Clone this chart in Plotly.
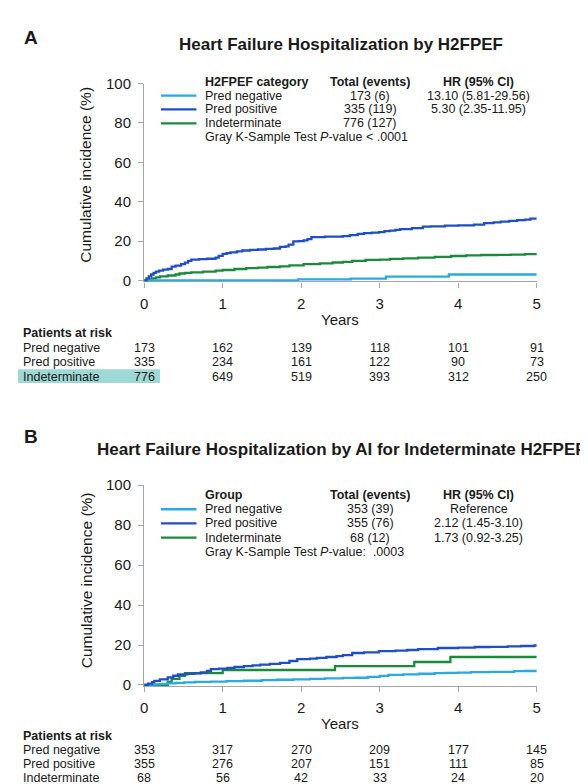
import plotly.graph_objects as go

W, H = 588, 784
FONT = "Liberation Sans, Arial, sans-serif"
TXT = "#1a1a1a"
AXC = "#a6a6a6"

# ---------------- data ----------------
groups = ["Pred negative", "Pred positive", "Indeterminate"]
colors = ["#29abe2", "#1f4fc6", "#1b8a3c"]

# Panel A: cumulative incidence (%) step curves
negA_t = [0, 1.96, 2.63, 3.08, 3.88, 5.0]
negA_y = [0, 0.5, 0.9, 1.9, 3.0, 3.0]
posA_t = [0, 0.03, 0.06, 0.09, 0.12, 0.15, 0.19, 0.24, 0.30, 0.35, 0.40, 0.47, 0.52, 0.56, 0.60, 0.70, 0.80,
          0.91, 0.95, 1.0, 1.05, 1.10, 1.18, 1.25, 1.35, 1.45, 1.55, 1.65, 1.73, 1.80, 1.84, 1.90, 1.97, 2.03,
          2.08, 2.13, 2.30, 2.53, 2.62, 2.72, 2.80, 2.90, 2.99, 3.06, 3.13, 3.20, 3.26, 3.41, 3.55, 3.65, 3.83,
          4.0, 4.2, 4.33, 4.45, 4.54, 4.65, 4.75, 4.85, 4.92, 5.0]
posA_y = [0, 1.0, 2.0, 3.0, 3.8, 4.5, 5.0, 5.5, 5.8, 7.0, 7.5, 8.3, 9.0, 9.9, 10.6, 10.8, 11.0,
          11.6, 12.5, 13.5, 13.9, 14.2, 14.8, 15.2, 15.5, 15.7, 16.0, 16.2, 17.0, 17.3, 18.2, 19.8, 20.0, 20.3,
          21.0, 22.0, 22.2, 22.5, 23.0, 23.6, 24.0, 24.3, 24.5, 25.0, 25.3, 25.7, 26.1, 26.6, 27.3, 27.5, 27.8,
          28.0, 28.3, 29.1, 29.5, 29.9, 30.2, 30.6, 30.9, 31.4, 31.4]
indA_t = [0, 0.05, 0.1, 0.15, 0.2, 0.3, 0.4, 0.45, 0.52, 0.6, 0.75, 0.91, 1.0, 1.15, 1.3, 1.45, 1.57, 1.73,
          1.85, 2.03, 2.24, 2.4, 2.53, 2.65, 2.82, 3.0, 3.13, 3.3, 3.49, 3.7, 3.91, 4.1, 4.29, 4.5, 4.67, 4.85, 5.0]
indA_y = [0, 0.5, 1.0, 1.5, 2.0, 2.5, 3.0, 3.5, 3.8, 4.1, 4.5, 5.0, 5.3, 5.8, 6.2, 6.5, 6.8, 7.1,
          7.6, 8.3, 8.7, 9.1, 9.4, 9.9, 10.4, 10.6, 10.9, 11.2, 11.6, 12.0, 12.4, 12.7, 12.9, 13.0, 13.1, 13.4, 13.6]

# Panel B
negB_t = [0, 0.08, 0.13, 0.2, 0.3, 0.4, 0.51, 0.65, 0.85, 1.05, 1.27, 1.5, 1.69, 1.9, 2.11, 2.3, 2.53, 2.69,
          2.85, 3.0, 3.11, 3.3, 3.5, 3.7, 3.83, 4.0, 4.16, 4.4, 4.71, 4.85, 5.0]
negB_y = [0, 0.2, 0.3, 0.5, 0.8, 1.0, 1.3, 1.5, 1.7, 1.9, 2.1, 2.4, 2.6, 2.8, 3.0, 3.3, 3.5, 3.6,
          4.0, 4.5, 5.0, 5.3, 5.6, 5.9, 6.1, 6.2, 6.4, 6.6, 6.9, 7.0, 7.0]
posB_t = [0, 0.05, 0.1, 0.13, 0.2, 0.3, 0.37, 0.43, 0.55, 0.64, 0.72, 0.8, 0.85, 0.95, 1.06, 1.15, 1.27, 1.38,
          1.48, 1.6, 1.73, 1.85, 1.95, 2.11, 2.2, 2.32, 2.45, 2.53, 2.65, 2.8, 2.99, 3.2, 3.35, 3.49, 3.74, 4.0,
          4.21, 4.4, 4.63, 4.8, 4.97, 5.0]
posB_y = [0, 0.7, 1.4, 2.0, 2.8, 3.8, 4.6, 5.3, 5.5, 5.8, 6.3, 7.0, 7.9, 8.2, 8.6, 9.0, 9.4, 9.8,
          10.2, 10.6, 11.1, 12.0, 12.9, 13.2, 13.6, 14.0, 14.4, 14.9, 16.0, 16.3, 16.9, 17.2, 17.5, 17.9, 18.5, 18.7,
          19.0, 19.1, 19.3, 19.5, 19.8, 19.9]
indB_t = [0, 0.3, 0.35, 0.45, 0.52, 1.0, 2.43, 3.44, 3.9, 5.0]
indB_y = [0, 1.5, 3.0, 4.5, 5.9, 7.5, 9.4, 11.5, 14.0, 14.0]

years = [0, 1, 2, 3, 4, 5]
yticks = [0, 20, 40, 60, 80, 100]

# Legend tables
headerA = ["H2FPEF category", "Total (events)", "HR (95% CI)"]
totalsA = ["173 (6)", "335 (119)", "776 (127)"]
hrA = ["13.10 (5.81-29.56)", "5.30 (2.35-11.95)", ""]
pvalA = "Gray K-Sample Test <i>P</i>-value &lt; .0001"
headerB = ["Group", "Total (events)", "HR (95% CI)"]
totalsB = ["353 (39)", "355 (76)", "68 (12)"]
hrB = ["Reference", "2.12 (1.45-3.10)", "1.73 (0.92-3.25)"]
pvalB = "Gray K-Sample Test <i>P</i>-value:\u00a0\u00a0.0003"

# Patients at risk
riskA = [[173, 162, 139, 118, 101, 91],
         [335, 234, 161, 122, 90, 73],
         [776, 649, 519, 393, 312, 250]]
riskB = [[353, 317, 270, 209, 177, 145],
         [355, 276, 207, 151, 111, 85],
         [68, 56, 42, 33, 24, 20]]

titleA = "Heart Failure Hospitalization by H2FPEF"
titleB = "Heart Failure Hospitalization by AI for Indeterminate H2FPEF"


# ---------------- helpers ----------------
def px(x):
    return x / W


def py(y):
    return 1 - y / H


fig = go.Figure()

curvesA = [(negA_t, negA_y), (posA_t, posA_y), (indA_t, indA_y)]
curvesB = [(negB_t, negB_y), (posB_t, posB_y), (indB_t, indB_y)]
order = [2, 0, 1]
for xa, ya, curves in [("x", "y", curvesA), ("x2", "y2", curvesB)]:
    for i in order:
        t, v = curves[i]
        fig.add_trace(go.Scatter(x=t, y=v, mode="lines", line=dict(color=colors[i], width=2.3, shape="hv"),
                                 xaxis=xa, yaxis=ya, showlegend=False, hoverinfo="skip"))

# panel geometry in pixels
X0, X1 = 134, 532
A_top, A_bot = 68, 270
B_top, B_bot = 478, 683

axis_common = dict(showgrid=False, zeroline=False, showline=True, linecolor=AXC, linewidth=1.3,
                   ticks="outside", ticklen=5, tickcolor=AXC, tickwidth=1.2,
                   tickfont=dict(family=FONT, size=15, color=TXT), layer="below traces")

fig.update_layout(
    width=W, height=H, margin=dict(l=0, r=0, t=0, b=0),
    paper_bgcolor="white", plot_bgcolor="white", showlegend=False,
    xaxis=dict(domain=[px(X0), px(X1)], range=[0, 5], tickvals=years, anchor="y",
               ticklabelstandoff=3, **axis_common),
    yaxis=dict(domain=[py(A_bot), py(A_top)], range=[-0.55, 100], tickvals=yticks, anchor="x",
               ticklabelstandoff=4, **axis_common),
    xaxis2=dict(domain=[px(X0), px(X1)], range=[0, 5], tickvals=years, anchor="y2",
                ticklabelstandoff=3, **axis_common),
    yaxis2=dict(domain=[py(B_bot), py(B_top)], range=[-0.55, 100], tickvals=yticks, anchor="x2",
                ticklabelstandoff=4, **axis_common),
)

ann = []
shapes = []


def text(x, y, s, size=12.5, bold=False, xanchor="left", xref="paper", yref="paper", angle=0):
    ann.append(dict(x=x, y=y, xref=xref, yref=yref, text=("<b>%s</b>" % s) if bold else s,
                    showarrow=False, xanchor=xanchor, yanchor="middle", textangle=angle,
                    font=dict(family=FONT, size=size, color=TXT)))


# panel letters and titles
text(px(10), py(21), "A", size=19, bold=True)
text(px(334), py(28), titleA, size=17, bold=True, xanchor="center")
text(px(10), py(428), "B", size=19, bold=True)
text(px(334), py(441), titleB, size=17, bold=True, xanchor="center")

# y axis titles and x axis titles
text(px(75), py(161), "Cumulative incidence (%)", size=15.5, xanchor="center", angle=-90)
text(px(75), py(575), "Cumulative incidence (%)", size=15.5, xanchor="center", angle=-90)
text(px(333), py(309), "Years", size=15, xanchor="center")
text(px(333), py(721), "Years", size=15, xanchor="center")


# legend tables
def legend_block(y_header, dy, header, totals, hrs, pval):
    text(px(194), py(y_header), header[0], bold=True)
    text(px(363), py(y_header), header[1], bold=True, xanchor="center")
    text(px(473), py(y_header), header[2], bold=True, xanchor="center")
    for i in range(3):
        yy = y_header + dy * (i + 1)
        shapes.append(dict(type="line", xref="paper", yref="paper", x0=px(151), x1=px(187),
                           y0=py(yy), y1=py(yy), line=dict(color=colors[i], width=2.3)))
        text(px(194), py(yy), groups[i])
        text(px(363), py(yy), totals[i], xanchor="center")
        if hrs[i]:
            text(px(473), py(yy), hrs[i], xanchor="center")
    text(px(194), py(y_header + dy * 4), pval)


legend_block(66, 14.2, headerA, totalsA, hrA, pvalA)
legend_block(488, 14.5, headerB, totalsB, hrB, pvalB)


# risk tables
def risk_table(y0, dy, rows, xref):
    text(px(9), py(y0), "Patients at risk", bold=True)
    for i, row in enumerate(rows):
        yy = y0 + dy * (i + 1)
        text(px(9), py(yy), groups[i])
        for t, n in zip(years, row):
            text(t, py(yy), str(n), xanchor="center", xref=xref)


risk_table(323, 14.7, riskA, "x")
risk_table(734, 14.4, riskB, "x2")

# highlight behind "Indeterminate" row in panel A
shapes.append(dict(type="rect", xref="paper", yref="paper", x0=px(6), x1=px(150),
                   y0=py(373.5), y1=py(359.5), fillcolor="#9fd9d5", line=dict(width=0), layer="below"))

fig.update_layout(annotations=ann, shapes=shapes)
fig.write_html("out.html")
